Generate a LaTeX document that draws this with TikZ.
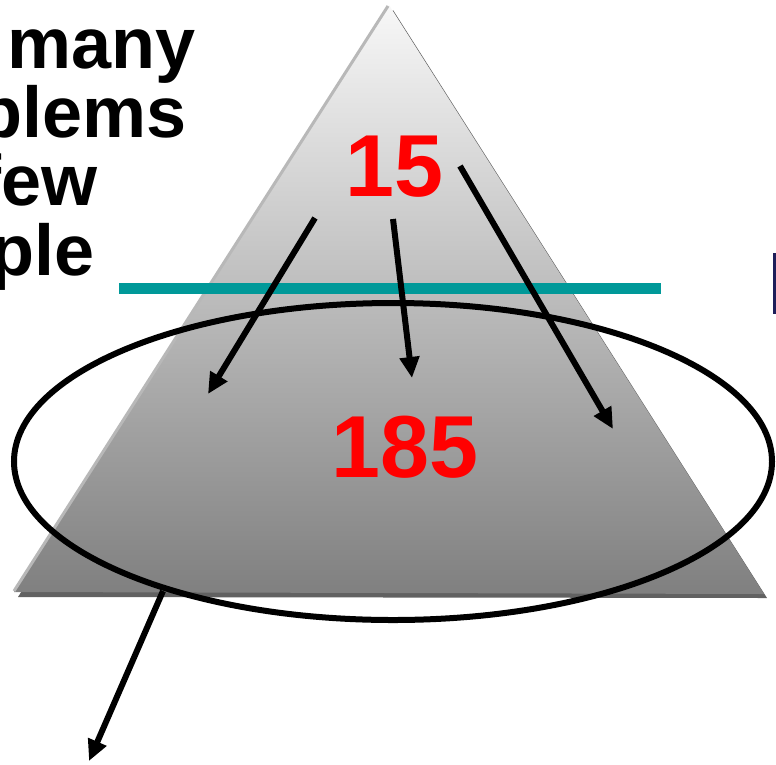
\documentclass[tikz,border=0pt]{standalone}
\usepackage{fontspec}
\setmainfont{Liberation Sans}
\usetikzlibrary{arrows.meta,shapes.geometric}
\definecolor{tealbar}{RGB}{0,153,153}
\definecolor{boxnavy}{RGB}{30,30,90}
\begin{document}
\begin{tikzpicture}[x=1pt,y=-1pt,
  arr/.style={line width=6pt,-{Triangle[length=21pt,width=19pt]}},
  bignum/.style={text=red,font=\bfseries\fontsize{88}{88}\selectfont,inner sep=0pt,anchor=base},
  sidetext/.style={font=\bfseries\fontsize{72}{72}\selectfont,inner sep=0pt,anchor=base east}]
\useasboundingbox (0,0) rectangle (776,764);
% pyramid with shadow
\fill[black!62] (393,10) -- (18,597) -- (767,598) -- cycle;
\shade[top color=black!3, bottom color=black!50] (389,5) -- (14,592) -- (764,594) -- cycle;
\draw[black!28, line width=3pt] (14,591) -- (388,6);
% teal bar
\coordinate (barL) at (119,288.5);
\coordinate (barR) at (661,288.5);
\draw[tealbar, line width=11pt] (barL) -- (barR);
% right box edge
\draw[boxnavy, line width=3pt] (774.5,254) rectangle (830,312);
% ellipse
\node[draw, ellipse, line width=6pt, minimum width=758pt, minimum height=317pt, inner sep=0pt] (oval) at (393,461.5) {};
% arrows
\coordinate (a1s) at (315,218); \coordinate (a1e) at (208,394);
\coordinate (a2s) at (393,219); \coordinate (a2e) at (412,378);
\coordinate (a3s) at (460,166); \coordinate (a3e) at (613,429);
\coordinate (a4s) at (163,591); \coordinate (a4e) at (89,761);
\draw[arr] (a1s) -- (a1e);
\draw[arr] (a2s) -- (a2e);
\draw[arr] (a3s) -- (a3e);
\draw[arr] (a4s) -- (a4e);
% numbers
\node[bignum] (n15) at (394.5,196) {15};
\node[bignum] (n185) at (405,477) {185};
% side text (clipped at the left edge)
\node[sidetext] (t1) at (196,68) {So many};
\node[sidetext] (t2) at (187,137) {problems};
\node[sidetext] (t3) at (98,205) {so few};
\node[sidetext] (t4) at (95,275) {people};
\end{tikzpicture}
\end{document}
